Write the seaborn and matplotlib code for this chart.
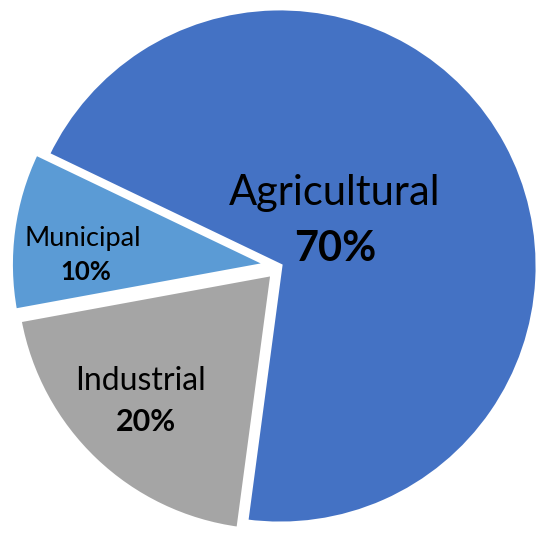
import matplotlib
matplotlib.use("Agg")
import matplotlib.pyplot as plt
import seaborn as sns

sns.set_theme(style="white")
plt.rcParams['font.family'] = ['Lato', 'DejaVu Sans']

# Datos
sectores = ['Agricultural', 'Municipal', 'Industrial']
porcentajes = [70, 10, 20]
colores = ['#4472C4', '#5B9BD5', '#A5A5A5']
separacion = [0.0, 0.045, 0.04]

fig = plt.figure(figsize=(5.5, 5.41), dpi=100)
ax = fig.add_axes([0, 0, 1, 1])

wedges, _ = ax.pie(porcentajes, colors=colores, startangle=-97.6, counterclock=True,
                   explode=separacion, radius=1.0,
                   wedgeprops=dict(edgecolor='white', linewidth=3.5))

# Etiquetas (nombre + porcentaje en negrita)
pos_nombre = {'Agricultural': (0.213, 0.283, 30), 'Municipal': (-0.764, 0.105, 19.5),
              'Industrial': (-0.539, -0.446, 23)}
pos_pct = {'Agricultural': (0.213, 0.066, 30), 'Municipal': (-0.752, -0.025, 18.5),
           'Industrial': (-0.519, -0.603, 22)}
for nombre, pct in zip(sectores, porcentajes):
    x, y, fs = pos_nombre[nombre]
    ax.text(x, y, nombre, ha='center', va='center', fontsize=fs, color='black')
    x, y, fs = pos_pct[nombre]
    ax.text(x, y, f'{pct}%', ha='center', va='center', fontsize=fs,
            fontweight='bold', color='black')

ax.set_xlim(-280 / 258, 270 / 258)
ax.set_ylim(-275 / 258, 266 / 258)
ax.set_aspect('auto')
ax.axis('off')

fig.savefig('out.png', dpi=100)
